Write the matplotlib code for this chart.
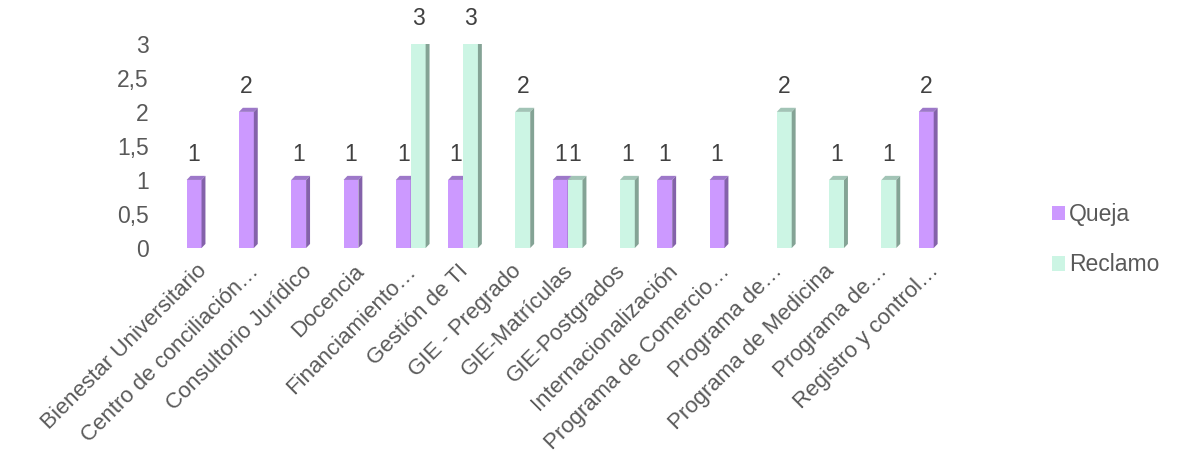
import matplotlib.pyplot as plt
import matplotlib.transforms as transforms
from matplotlib.patches import Polygon, Patch
import numpy as np

plt.rcParams['font.family'] = ['Liberation Sans', 'DejaVu Sans']

categorias = ["Bienestar Universitario", "Centro de conciliación…", "Consultorio Jurídico",
              "Docencia", "Financiamiento…", "Gestión de TI", "GIE - Pregrado",
              "GIE-Matrículas", "GIE-Postgrados", "Internacionalización",
              "Programa de Comercio…", "Programa de…", "Programa de Medicina",
              "Programa de…", "Registro y control…"]
queja = [1, 2, 1, 1, 1, 1, 0, 1, 0, 1, 1, 0, 0, 0, 2]
reclamo = [0, 0, 0, 0, 3, 3, 2, 1, 1, 0, 0, 2, 1, 1, 0]

colores = {
    "Queja": ("#cc99ff", "#9d78c9", "#8462aa"),
    "Reclamo": ("#ccf5e4", "#a2c4b6", "#84a395"),
}

fig = plt.figure(figsize=(11.85, 4.61), dpi=100)
ax = fig.add_axes([0.148, 0.462, 0.662, 0.443])

w = 0.285
dx, dy = 0.075, 0.06
x = np.arange(len(categorias))


def barra3d(x0, h, nombre):
    front, top, side = colores[nombre]
    ax.add_patch(Polygon([(x0, 0), (x0 + w, 0), (x0 + w, h), (x0, h)],
                         closed=True, facecolor=front, edgecolor='none'))
    ax.add_patch(Polygon([(x0, h), (x0 + w, h), (x0 + w + dx, h + dy), (x0 + dx, h + dy)],
                         closed=True, facecolor=top, edgecolor='none'))
    ax.add_patch(Polygon([(x0 + w, 0), (x0 + w + dx, dy), (x0 + w + dx, h + dy), (x0 + w, h)],
                         closed=True, facecolor=side, edgecolor='none'))
    ax.text(x0 + w / 2, h + 0.2, str(h), ha='center', va='bottom',
            fontsize=16.5, color='#404040', clip_on=False)


for i in x:
    if queja[i] > 0:
        barra3d(i - w, queja[i], "Queja")
    if reclamo[i] > 0:
        barra3d(i, reclamo[i], "Reclamo")

ax.set_xlim(-0.5, len(categorias) - 0.5)
ax.set_ylim(0, 3)
ax.set_yticks([0, 0.5, 1, 1.5, 2, 2.5, 3])
ax.set_yticklabels(["0", "0,5", "1", "1,5", "2", "2,5", "3"])
ax.set_xticks(x)
ax.set_xticklabels(categorias, rotation=45, ha='right', rotation_mode='anchor')
ax.tick_params(axis='both', length=0, labelsize=16.5, labelcolor='#595959')
ax.tick_params(axis='x', labelsize=16)
ax.tick_params(axis='y', pad=19)
ax.tick_params(axis='x', pad=9)
# nudge the rotated labels a little to the left
desplazar = transforms.ScaledTranslation(-5 / 100, 0, fig.dpi_scale_trans)
for lbl in ax.get_xticklabels():
    lbl.set_transform(lbl.get_transform() + desplazar)
for s in ax.spines.values():
    s.set_visible(False)

handles = [Patch(facecolor=colores["Queja"][0], label="Queja"),
           Patch(facecolor=colores["Reclamo"][0], label="Reclamo")]
leg = fig.legend(handles=handles, loc='center left', bbox_to_anchor=(0.87, 0.48),
                 frameon=False, fontsize=16.5, handlelength=0.6, handleheight=0.6,
                 handletextpad=0.15, labelspacing=1.2)
for t in leg.get_texts():
    t.set_color('#595959')

fig.savefig("out.png", dpi=100)
